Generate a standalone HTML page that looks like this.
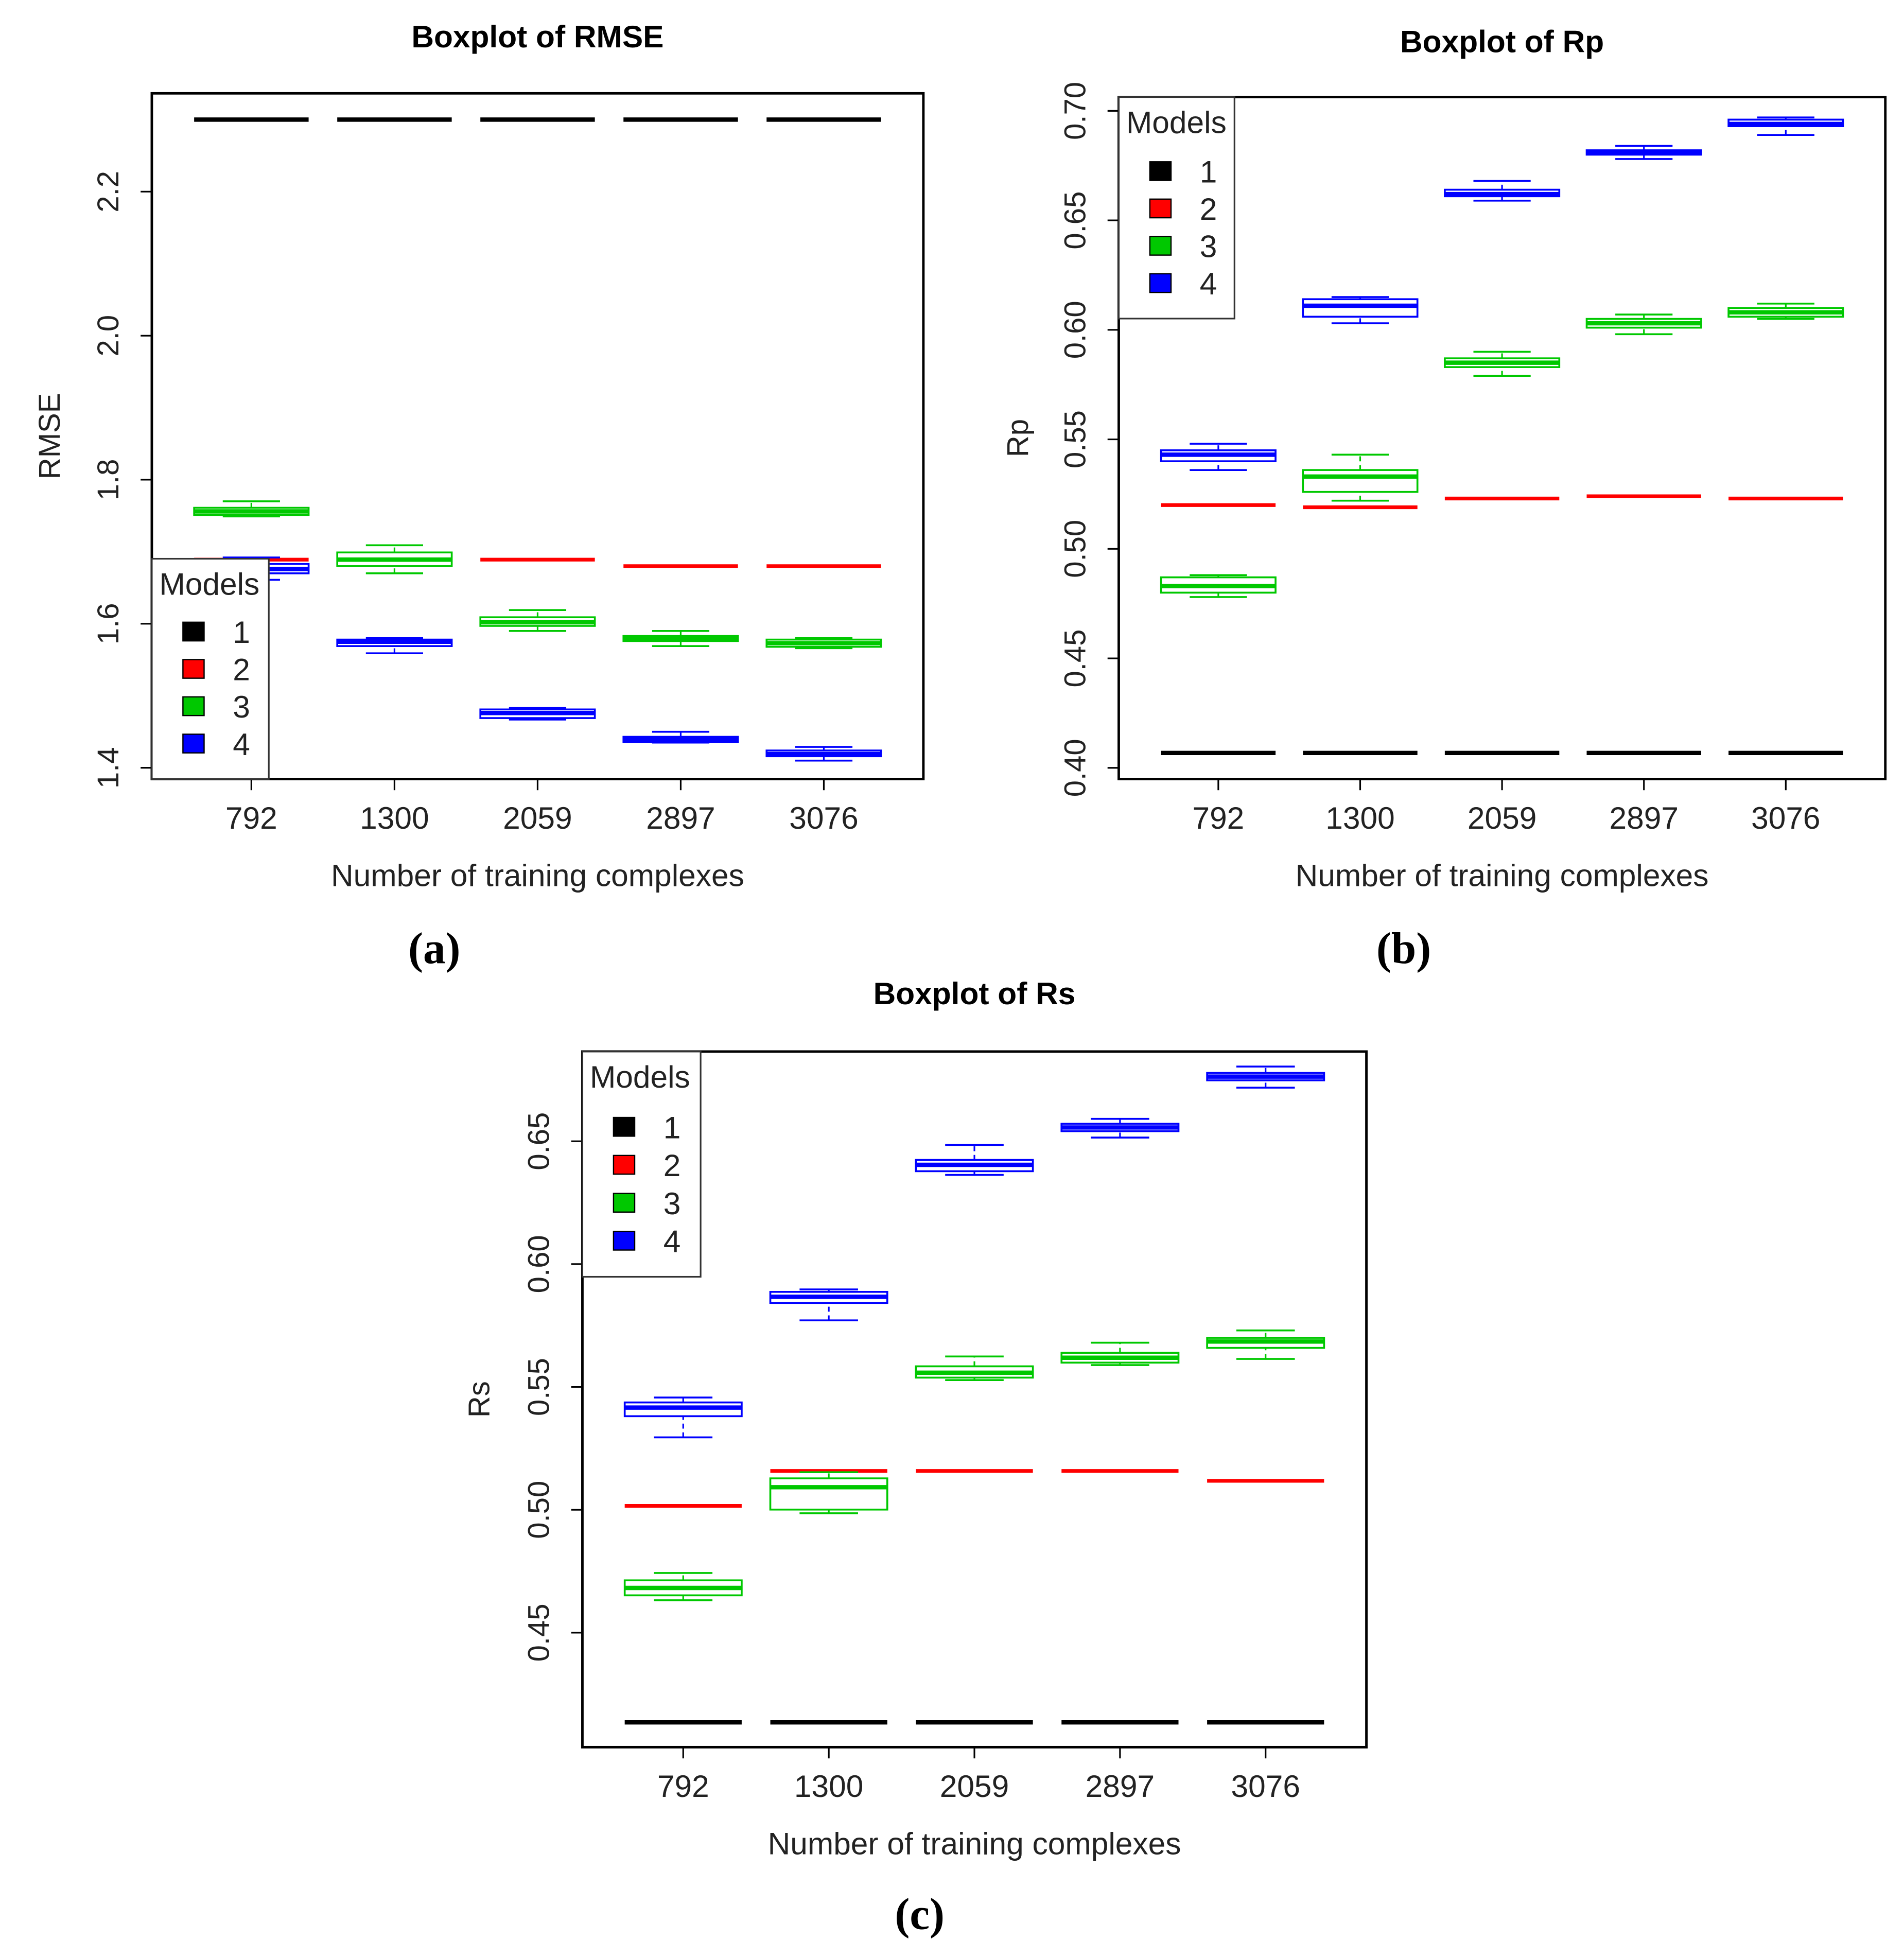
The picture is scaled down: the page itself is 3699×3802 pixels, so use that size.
<!DOCTYPE html>
<html><head><meta charset="utf-8"><style>
html,body{margin:0;padding:0;background:#fff;}
svg{display:block;}
.sans{font-family:"Liberation Sans",Arial,sans-serif;}
</style></head><body>
<svg id="fig" xmlns="http://www.w3.org/2000/svg" width="3699" height="3802" viewBox="0 0 1530 1572.6" preserveAspectRatio="none">
<rect width="1530" height="1572.6" fill="#fff"/>
</svg>
<script>
// Shared categories
const categories = ["792","1300","2059","2897","3076"];
const modelNames = ["1","2","3","4"];
const modelColors = ["#000000","#ff0000","#00c800","#0000ff"];

// Panel (a) RMSE: [lowWhisker, q1, median, q3, highWhisker]
const rmseModel1 = [2.300,2.300,2.300,2.300,2.300];
const rmseModel2 = [1.689,1.689,1.689,1.680,1.680];
const rmseModel3 = [[1.749,1.751,1.756,1.761,1.770],[1.670,1.680,1.689,1.699,1.709],[1.590,1.597,1.602,1.609,1.619],[1.569,1.576,1.580,1.583,1.590],[1.566,1.568,1.573,1.578,1.580]];
const rmseModel4 = [[1.661,1.670,1.676,1.683,1.692],[1.559,1.569,1.575,1.578,1.580],[1.467,1.469,1.476,1.481,1.483],[1.435,1.436,1.440,1.443,1.450],[1.410,1.416,1.419,1.424,1.429]];
const rmseTicks = [1.4,1.6,1.8,2.0,2.2];

// Panel (b) Rp
const rpModel1 = [0.4068,0.4068,0.4068,0.4068,0.4068];
const rpModel2 = [0.520,0.519,0.523,0.524,0.523];
const rpModel3 = [[0.478,0.480,0.483,0.487,0.488],[0.522,0.526,0.533,0.536,0.543],[0.579,0.583,0.585,0.587,0.590],[0.598,0.601,0.603,0.605,0.607],[0.605,0.606,0.608,0.610,0.612]];
const rpModel4 = [[0.536,0.540,0.543,0.545,0.548],[0.603,0.606,0.611,0.614,0.615],[0.659,0.661,0.662,0.664,0.668],[0.678,0.680,0.681,0.682,0.684],[0.689,0.693,0.694,0.696,0.697]];
const rpTicks = [0.40,0.45,0.50,0.55,0.60,0.65,0.70];

// Panel (c) Rs
const rsModel1 = [0.4135,0.4135,0.4135,0.4135,0.4135];
const rsModel2 = [0.5016,0.5158,0.5158,0.5158,0.5118];
const rsModel3 = [[0.4632,0.4652,0.4682,0.4713,0.4743],[0.4986,0.5001,0.5092,0.5128,0.5153],[0.5528,0.5538,0.5558,0.5584,0.5624],[0.5589,0.5599,0.5619,0.5639,0.5680],[0.5614,0.5659,0.5685,0.5700,0.5730]];
const rsModel4 = [[0.5295,0.5381,0.5416,0.5437,0.5457],[0.5771,0.5842,0.5867,0.5887,0.5897],[0.6363,0.6378,0.6404,0.6424,0.6485],[0.6515,0.6541,0.6556,0.6571,0.6591],[0.6718,0.6748,0.6763,0.6778,0.6804]];
const rsTicks = [0.45,0.50,0.55,0.60,0.65];

const NS="http://www.w3.org/2000/svg";
const svg=document.getElementById('fig');
function el(tag,attrs,parent,txt){const e=document.createElementNS(NS,tag);for(const k in attrs)e.setAttribute(k,attrs[k]);if(tag==='text'&&!attrs.style)e.setAttribute('class','sans');if(txt!==undefined)e.textContent=txt;(parent||svg).appendChild(e);return e;}

function panel(cfg){
  const g=el('g',{});
  
  
  const {x0,x1,y0,y1,vmin,vmax}=cfg;
  const yS=v=>y1-(v-vmin)/(vmax-vmin)*(y1-y0);
  const xS=i=>cfg.xFirst+i*cfg.xStep;
  const hw=cfg.hw;
  const t=el('text',{x:(x0+x1)/2,y:cfg.titleY,'text-anchor':'middle','font-size':25,'font-weight':'bold'},g,cfg.title);
  
  
  cfg.ticks.forEach(v=>{
    const y=yS(v);
    el('line',{x1:x0-9,x2:x0,y1:y,y2:y,stroke:'#000','stroke-width':1.3},g);
    const lx=x0-35;
    const lb=el('text',{x:lx,y:y,'text-anchor':'middle','font-size':24,fill:'#222',transform:`rotate(-90 ${lx} ${y})`,'dominant-baseline':'central'},g,v.toFixed(cfg.dec));
    
    
  });
  const yt=el('text',{x:cfg.yTitleX,y:(y0+y1)/2,'text-anchor':'middle','font-size':24,fill:'#222',transform:`rotate(-90 ${cfg.yTitleX} ${(y0+y1)/2})`,'dominant-baseline':'central'},g,cfg.yTitle);
  
  
  categories.forEach((c,i)=>{
    const x=xS(i);
    el('line',{x1:x,x2:x,y1:y1,y2:y1+9,stroke:'#000','stroke-width':1.3},g);
    const lb=el('text',{x:x,y:y1+40,'text-anchor':'middle','font-size':25,fill:'#222'},g,c);
    
    
  });
  const xt=el('text',{x:(x0+x1)/2,y:y1+86,'text-anchor':'middle','font-size':25,fill:'#222'},g,'Number of training complexes');
  
  
  [cfg.m1,cfg.m2].forEach((arr,mi)=>{
    arr.forEach((v,i)=>{
      const ln=el('line',{x1:xS(i)-hw,x2:xS(i)+hw,y1:yS(v),y2:yS(v),stroke:modelColors[mi],'stroke-width':mi===0?3.5:3},g);
      
      
    });
  });
  [cfg.m3,cfg.m4].forEach((arr,k)=>{
    const col=modelColors[k+2];
    arr.forEach((q,i)=>{
      const x=xS(i);
      const bg=el('g',{},g);
      
      
      el('line',{x1:x,x2:x,y1:yS(q[0]),y2:yS(q[1]),stroke:col,'stroke-width':1.3,'stroke-dasharray':'4 3'},bg);
      el('line',{x1:x,x2:x,y1:yS(q[3]),y2:yS(q[4]),stroke:col,'stroke-width':1.3,'stroke-dasharray':'4 3'},bg);
      el('line',{x1:x-hw/2,x2:x+hw/2,y1:yS(q[0]),y2:yS(q[0]),stroke:col,'stroke-width':1.5},bg);
      el('line',{x1:x-hw/2,x2:x+hw/2,y1:yS(q[4]),y2:yS(q[4]),stroke:col,'stroke-width':1.5},bg);
      el('rect',{x:x-hw,y:yS(q[3]),width:2*hw,height:Math.max(yS(q[1])-yS(q[3]),1),fill:'none',stroke:col,'stroke-width':1.5},bg);
      el('line',{x1:x-hw,x2:x+hw,y1:yS(q[2]),y2:yS(q[2]),stroke:col,'stroke-width':3.5},bg);
    });
  });
  el('rect',{x:x0,y:y0,width:x1-x0,height:y1-y0,fill:'none',stroke:'#000','stroke-width':2},g);
  const L=cfg.leg;
  const lg=el('g',{},g);
  
  
  el('rect',{x:L.x,y:L.y,width:L.w,height:L.h,fill:'#fff',stroke:'#333','stroke-width':1.3},lg);
  el('text',{x:L.x+6,y:L.y+29,'font-size':25,fill:'#222'},lg,'Models');
  modelNames.forEach((m,i)=>{
    const yy=L.y+L.y1+i*L.dy;
    const e=el('g',{},lg);
    
    
    el('rect',{x:L.x+25,y:yy-8,width:17,height:15,fill:modelColors[i],stroke:'#000','stroke-width':1},e);
    el('text',{x:L.x+72,y:yy,'text-anchor':'middle','dominant-baseline':'central','font-size':25,fill:'#222'},e,m);
  });
}

panel({name:'rmse-panel',title:'Boxplot of RMSE',titleY:38,x0:122,x1:742,y0:75,y1:626,vmin:1.3844,vmax:2.3365,
  xFirst:202,xStep:115,hw:46,ticks:rmseTicks,dec:1,yTitle:'RMSE',yTitleX:40,
  m1:rmseModel1,m2:rmseModel2,m3:rmseModel3,m4:rmseModel4,
  leg:{x:122,y:449,w:94,h:177,y1:59,dy:30}});
panel({name:'rp-panel',title:'Boxplot of Rp',titleY:42,x0:899,x1:1515,y0:78,y1:626,vmin:0.3949,vmax:0.7063,
  xFirst:979,xStep:114,hw:46,ticks:rpTicks,dec:2,yTitle:'Rp',yTitleX:818,
  m1:rpModel1,m2:rpModel2,m3:rpModel3,m4:rpModel4,
  leg:{x:899,y:78,w:93,h:178,y1:60,dy:30}});
panel({name:'rs-panel',title:'Boxplot of Rs',titleY:807,x0:468,x1:1098,y0:845,y1:1404,vmin:0.4034,vmax:0.6865,
  xFirst:549,xStep:117,hw:47,ticks:rsTicks,dec:2,yTitle:'Rs',yTitleX:385,
  m1:rsModel1,m2:rsModel2,m3:rsModel3,m4:rsModel4,
  leg:{x:468,y:845,w:95,h:181,y1:61,dy:30.5}});

[['(a)',349,774],['(b)',1128,774],['(c)',739,1550]].forEach(p=>{
  const t=el('text',{x:p[1],y:p[2],'text-anchor':'middle','font-size':36,'font-weight':'bold',style:'font-family:"Liberation Serif",serif'},svg,p[0]);
  
  
});
</script>
</body></html>
